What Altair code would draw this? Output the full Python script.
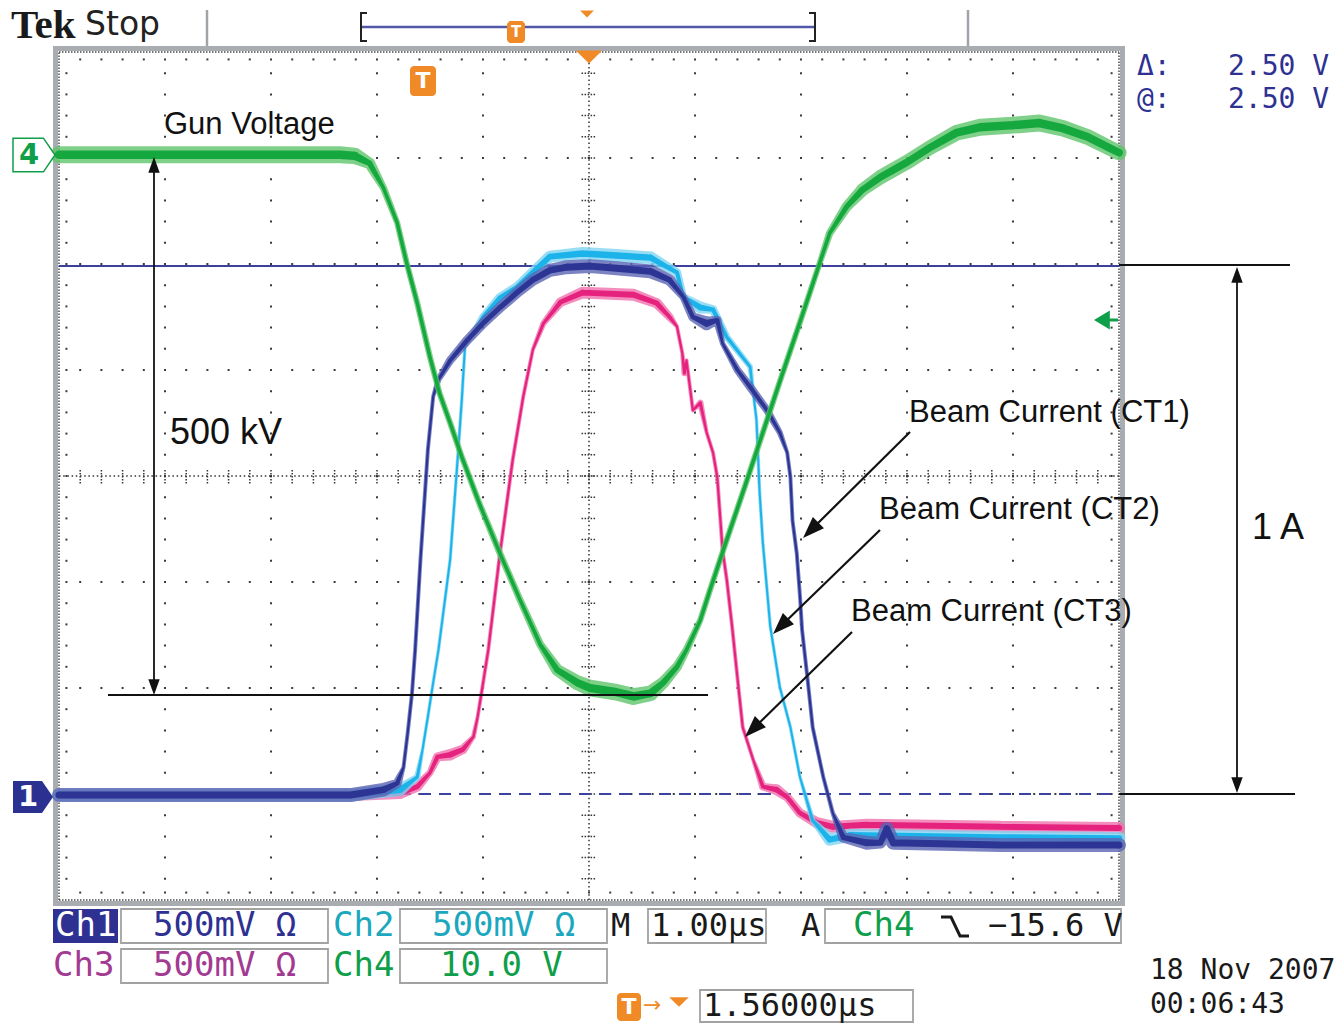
import altair as alt
import numpy as np
import pandas as pd

# ---------------- waveform data, scope units -----------------------------
# time in µs (1.00 µs/div, 10 divisions), amplitude in vertical divisions (-4..4)
GUN_T = [0.00, 0.86, 1.80, 2.65, 2.79, 2.93, 3.06, 3.19, 3.28, 3.38, 3.50, 3.59, 3.69, 3.80, 3.97,
         4.16, 4.35, 4.54, 4.70, 4.89, 5.01, 5.26, 5.42, 5.58, 5.70, 5.83, 5.92, 6.05, 6.14, 6.30,
         6.47, 6.63, 6.80, 6.99, 7.18, 7.27, 7.43, 7.58, 7.75, 8.00, 8.22, 8.47, 8.69, 9.00, 9.25,
         9.47, 9.70, 9.94, 10.00]
GUN_V = [3.03, 3.03, 3.03, 3.03, 3.02, 2.95, 2.72, 2.39, 2.01, 1.63, 1.12, 0.78, 0.50, 0.18, -0.27,
         -0.73, -1.17, -1.59, -1.83, -1.95, -2.00, -2.04, -2.08, -2.05, -1.95, -1.80, -1.64, -1.36, -1.08, -0.60,
         -0.10, 0.38, 0.89, 1.45, 2.02, 2.29, 2.54, 2.70, 2.82, 2.96, 3.10, 3.24, 3.29, 3.31, 3.33,
         3.28, 3.20, 3.08, 3.05]

CT1_T = [0.00, 1.33, 2.75, 3.06, 3.19, 3.25, 3.29, 3.33, 3.36, 3.41, 3.48, 3.53, 3.58, 3.69, 3.85,
         4.00, 4.16, 4.32, 4.47, 4.63, 4.79, 5.01, 5.26, 5.58, 5.76, 5.89, 5.98, 6.11, 6.21, 6.26,
         6.40, 6.52, 6.68, 6.80, 6.87, 6.90, 6.92, 6.96, 6.99, 7.01, 7.06, 7.11, 7.21, 7.30, 7.40,
         7.62, 7.75, 7.81, 7.87, 8.88, 10.00]
CT1_V = [-3.01, -3.01, -3.01, -2.96, -2.90, -2.75, -2.42, -2.05, -1.64, -0.79, 0.25, 0.75, 0.91, 1.09, 1.28,
         1.44, 1.59, 1.73, 1.85, 1.94, 1.97, 1.98, 1.96, 1.93, 1.85, 1.69, 1.50, 1.44, 1.47, 1.25,
         1.00, 0.84, 0.62, 0.41, 0.22, -0.01, -0.42, -0.73, -1.13, -1.45, -1.90, -2.37, -2.84, -3.18, -3.41,
         -3.46, -3.46, -3.33, -3.46, -3.48, -3.48]

CT2_T = [0.00, 2.75, 3.22, 3.38, 3.43, 3.48, 3.53, 3.58, 3.69, 3.76, 3.80, 3.83, 4.00, 4.16, 4.32,
         4.63, 4.94, 5.26, 5.58, 5.83, 5.89, 6.05, 6.17, 6.30, 6.52, 6.55, 6.58, 6.61, 6.64, 6.68,
         6.71, 6.80, 6.90, 6.99, 7.11, 7.27, 7.46, 8.88, 10.00]
CT2_V = [-3.01, -3.01, -2.96, -2.84, -2.58, -2.27, -1.95, -1.64, -0.79, 0.15, 0.72, 1.22, 1.50, 1.68, 1.78,
         2.07, 2.10, 2.08, 2.06, 1.92, 1.69, 1.59, 1.57, 1.31, 1.03, 0.78, 0.53, -0.16, -0.63, -1.08,
         -1.42, -1.99, -2.37, -2.84, -3.25, -3.43, -3.39, -3.41, -3.42]

CT3_T = [0.00, 2.75, 3.22, 3.38, 3.50, 3.57, 3.69, 3.81, 3.91, 3.95, 3.99, 4.05, 4.16, 4.28, 4.38,
         4.47, 4.57, 4.73, 4.94, 5.42, 5.64, 5.76, 5.83, 5.88, 5.90, 5.92, 5.98, 6.05, 6.11, 6.17,
         6.21, 6.24, 6.26, 6.30, 6.35, 6.40, 6.45, 6.55, 6.64, 6.77, 6.87, 6.99, 7.15, 7.30, 7.62,
         8.88, 10.00]
CT3_V = [-3.01, -3.01, -2.99, -2.93, -2.80, -2.65, -2.63, -2.58, -2.46, -2.27, -2.02, -1.64, -0.73, 0.15, 0.75,
         1.19, 1.44, 1.64, 1.73, 1.71, 1.63, 1.50, 1.41, 1.16, 0.97, 1.09, 0.62, 0.69, 0.41, 0.22,
         -0.01, -0.42, -0.70, -0.98, -1.42, -1.90, -2.37, -2.68, -2.93, -2.96, -3.03, -3.18, -3.27, -3.31, -3.29,
         -3.31, -3.32]

CURSOR_SOLID = 1.98     # Δ cursor
CURSOR_DASHED = -3.0    # @ cursor / Ch1 ground

# ---------------- colours -------------------------------------------------
NAVY = "#2e3192"
TEAL = "#1ba8be"
PURPLE = "#a33a92"
CH4G = "#0f9f4a"
ORANGE = "#f08a26"
TRACES = {
    "gun": ("#14a83e", "#5fc46c"),
    "ct1": ("#2c3593", "#5a64b3"),
    "ct2": ("#1cb3ea", "#7fd4f3"),
    "ct3": ("#e5237f", "#f070ad"),
}
# (halo amplitude px, halo min width, core min width)
TRACE_W = {"gun": (17, 6.0, 3.5), "ct1": (14, 4.0, 2.2), "ct2": (13, 3.5, 2.0), "ct3": (12, 4.0, 2.2)}

# ---------------- scales --------------------------------------------------
XS = alt.Scale(domain=[0, 10], range=[59, 1119], nice=False, zero=False)
YS = alt.Scale(domain=[-4, 4], range=[900, 52], nice=False, zero=False)


def X(p):  # layout pixel -> time divisions (chrome placement only)
    return (p - 59) / 106.0


def Y(p):  # layout pixel -> vertical divisions
    return (476 - p) / 106.0


def ex(f="x"):
    return alt.X(f + ":Q", scale=XS, axis=None)


def ey(f="y"):
    return alt.Y(f + ":Q", scale=YS, axis=None)


def widths(t, v, amp, minw):
    n = len(t)
    out = []
    for i in range(n):
        a, b = max(i - 1, 0), min(i + 1, n - 1)
        dt = t[b] - t[a]
        s = (v[b] - v[a]) / dt if dt != 0 else 50.0
        out.append(max(minw, amp / np.sqrt(1 + s * s)))
    return out


def trail(t, v, color, amp, minw, opacity):
    df = pd.DataFrame({"x": t, "y": v, "w": widths(t, v, amp, minw), "i": list(range(len(t)))})
    return alt.Chart(df).mark_trail(color=color, opacity=opacity).encode(
        x=ex(), y=ey(), size=alt.Size("w:Q", scale=None, legend=None), order="i:Q")


def segs(rows, color, width, dash=None, px=True):
    if px:
        rows = [(X(a), Y(b), X(c), Y(d)) for a, b, c, d in rows]
    df = pd.DataFrame(rows, columns=["x", "y", "x2", "y2"])
    kw = dict(color=color, strokeWidth=width)
    if dash:
        kw["strokeDash"] = dash
    return alt.Chart(df).mark_rule(**kw).encode(x=ex(), y=ey(), x2="x2:Q", y2="y2:Q")


def boxes(rows, stroke=None, fill=None, width=1.5, radius=0):
    rows = [(X(a), Y(b), X(c), Y(d)) for a, b, c, d in rows]
    df = pd.DataFrame(rows, columns=["x", "y", "x2", "y2"])
    kw = dict(strokeWidth=width, cornerRadius=radius)
    if stroke:
        kw["stroke"] = stroke
    if fill:
        kw["fill"] = fill
        kw["fillOpacity"] = 1
    else:
        kw["fillOpacity"] = 0
    return alt.Chart(df).mark_rect(**kw).encode(x=ex(), y=ey(), x2="x2:Q", y2="y2:Q")


def texts(rows, font, size, weight="normal", align="left"):
    df = pd.DataFrame([(X(a), Y(b), s, c) for s, a, b, c in rows], columns=["x", "y", "t", "c"])
    return alt.Chart(df).mark_text(font=font, fontSize=size, fontWeight=weight, align=align,
                                   baseline="middle").encode(
        x=ex(), y=ey(), text="t:N", color=alt.Color("c:N", scale=None, legend=None))


def symbols(rows, shape, size, fill, stroke=None, sw=0, px=True):
    if px:
        rows = [(X(a), Y(b), ang) for a, b, ang in rows]
    df = pd.DataFrame(rows, columns=["x", "y", "a"])
    kw = dict(shape=shape, size=size, fill=fill, fillOpacity=1, opacity=1, strokeWidth=sw)
    if stroke:
        kw["stroke"] = stroke
    return alt.Chart(df).mark_point(**kw).encode(
        x=ex(), y=ey(), angle=alt.Angle("a:Q", scale=None))


layers = []

# ---------------- graticule -----------------------------------------------
layers.append(boxes([(55.5, 48.5, 1122.5, 903.5)], stroke="#a9adb1", width=5))
dots = []
for i in range(1, 10):
    if i == 5:
        continue
    for k in range(-19, 20):
        dots.append((i, k * 0.2))
for j in range(-3, 4):
    if j == 0:
        continue
    for m in range(1, 50):
        dots.append((m * 0.2, j))
for m in range(1, 50):
    dots.append((m * 0.2, 4 - 0.07))
    dots.append((m * 0.2, -4 + 0.07))
for k in range(-19, 20):
    dots.append((0.07, k * 0.2))
    dots.append((10 - 0.07, k * 0.2))
dots_df = pd.DataFrame(dots, columns=["x", "y"])
layers.append(alt.Chart(dots_df).mark_square(size=4, color="#3a3a3a", opacity=1).encode(x=ex(), y=ey()))
layers.append(segs([(0, -4, 0, 4), (10, -4, 10, 4), (0, 4, 10, 4), (0, -4, 10, -4)],
                   "#4a4a4a", 1.5, dash=[1.5, 1.5], px=False))
layers.append(segs([(5, -4, 5, 4), (0, 0, 10, 0)], "#333333", 1.5, dash=[1.5, 2.7], px=False))
ticks = [(5 - 0.07, k * 0.2, 5 + 0.07, k * 0.2) for k in range(-19, 20)]
ticks += [(m * 0.2, -0.07, m * 0.2, 0.07) for m in range(1, 50)]
layers.append(segs(ticks, "#333333", 1.5, dash=[1.5, 1.5], px=False))

# ---------------- cursors -------------------------------------------------
layers.append(segs([(0, CURSOR_DASHED, 10, CURSOR_DASHED)], "#3b42a0", 2, dash=[12, 8], px=False))
layers.append(segs([(0, CURSOR_SOLID, 10, CURSOR_SOLID)], "#3b3f9e", 2, px=False))

# ---------------- traces --------------------------------------------------
for key, (t, v) in [("ct3", (CT3_T, CT3_V)), ("ct2", (CT2_T, CT2_V)),
                    ("ct1", (CT1_T, CT1_V)), ("gun", (GUN_T, GUN_V))]:
    core, halo = TRACES[key]
    amp, hmin, cmin = TRACE_W[key]
    layers.append(trail(t, v, halo, amp, hmin, 0.8))
    layers.append(trail(t, v, core, amp * 0.5, cmin, 1.0))

# ---------------- annotations ---------------------------------------------
ARROW = "M0,0L0.36,1L-0.36,1Z"
layers.append(segs([(154, 165, 154, 688), (108, 695, 708, 695),
                    (1119, 265, 1290, 265), (1119, 794, 1295, 794), (1237, 275, 1237, 785)],
                   "#111111", 1.8))
layers.append(symbols([(154, 157, 0), (1237, 267, 0)], ARROW, 1000, "#111111"))
layers.append(symbols([(154, 695, 180), (1237, 793, 180)], ARROW, 1000, "#111111"))
layers.append(segs([(910, 432, 810, 531), (880, 530, 780, 627), (852, 632, 752, 730)], "#111111", 2.2))
layers.append(symbols([(803, 538, 225), (773, 634, 225), (745, 737, 225)], ARROW, 1900, "#111111"))

layers.append(texts([("Gun Voltage", 164, 125, "#111111"),
                     ("Beam Current (CT1)", 909, 413, "#111111"),
                     ("Beam Current (CT2)", 879, 510, "#111111"),
                     ("Beam Current (CT3)", 851, 612, "#111111")], "Liberation Sans", 31))
layers.append(texts([("500 kV", 170, 433, "#111111"), ("1 A", 1252, 528, "#111111")],
                    "Liberation Sans", 36))

# ---------------- scope chrome: top ---------------------------------------
layers.append(texts([("Tek", 11, 26, "#1a1a1a")], "Liberation Serif", 41, weight="bold"))
layers.append(texts([("Stop", 85, 25, "#222222")], "DejaVu Sans", 33))
layers.append(segs([(207, 10, 207, 46), (968, 10, 968, 46)], "#a0a4a8", 2.5))
layers.append(segs([(361, 27, 815, 27)], "#5257a8", 2.5))
layers.append(segs([(361, 12, 361, 42), (815, 12, 815, 42), (361, 13, 367, 13), (361, 41, 367, 41),
                    (809, 13, 815, 13), (809, 41, 815, 41)], "#222222", 2))
TRI = "M-1,-0.5L1,-0.5L0,0.5Z"
layers.append(symbols([(589, 57, 0)], TRI, 700, ORANGE))
layers.append(symbols([(587, 14, 0)], TRI, 190, ORANGE))
layers.append(boxes([(410, 66, 436, 96), (507, 21, 525, 43), (617, 993, 641, 1021)], fill=ORANGE,
                    width=0, radius=4))
layers.append(texts([("T", 423, 81, "#ffffff"), ("T", 629, 1007, "#ffffff")], "DejaVu Sans", 22,
                    weight="bold", align="center"))
layers.append(texts([("T", 516, 32, "#ffffff")], "DejaVu Sans", 15, weight="bold", align="center"))

layers.append(texts([("Δ:", 1137, 67, NAVY), ("@:", 1137, 100, NAVY),
                     ("2.50 V", 1228, 67, NAVY), ("2.50 V", 1228, 100, NAVY)], "DejaVu Sans Mono", 28))

# channel markers
PENT = "M-1,-0.8L0.45,-0.8L1,0L0.45,0.8L-1,0.8Z"
layers.append(symbols([(34, 155, 0)], PENT, 1764, "#ffffff", stroke=CH4G, sw=1.5))
layers.append(symbols([(33, 797, 0)], PENT, 1600, "#2b3190"))
layers.append(texts([("4", 29, 155, CH4G)], "DejaVu Sans", 29, weight="bold", align="center"))
layers.append(texts([("1", 28, 797, "#ffffff")], "DejaVu Sans", 29, weight="bold", align="center"))
# Ch4 trigger level arrow
WIDE_ARROW = "M0,0L0.6,1L-0.6,1Z"
layers.append(segs([(1104, 320, 1118, 320)], CH4G, 3))
layers.append(symbols([(1094, 320, 270)], WIDE_ARROW, 1000, CH4G))

# ---------------- scope chrome: bottom ------------------------------------
layers.append(boxes([(53, 909, 118, 943)], fill=NAVY, width=0))
layers.append(boxes([(121, 909, 328, 943), (400, 909, 607, 943), (648, 909, 766, 943),
                     (825, 909, 1121, 943), (121, 949, 328, 983), (400, 949, 607, 983),
                     (700, 990, 913, 1022)], stroke="#a2a2a2", width=1.8))
MONO = "DejaVu Sans Mono"
layers.append(texts([("Ch1", 55, 926, "#ffffff"), ("500mV Ω", 153, 926, NAVY),
                     ("Ch2", 333, 926, TEAL), ("500mV Ω", 432, 926, TEAL),
                     ("Ch3", 53, 966, PURPLE), ("500mV Ω", 153, 966, PURPLE),
                     ("Ch4", 333, 966, CH4G), ("10.0 V", 440, 966, CH4G),
                     ("Ch4", 853, 926, CH4G)], MONO, 34))
layers.append(texts([("M", 611, 926, "#1a1a1a"), ("1.00µs", 651, 926, "#1a1a1a"),
                     ("A", 801, 926, "#1a1a1a"), ("−15.6 V", 988, 926, "#1a1a1a"),
                     ("1.56000µs", 703, 1006, "#1a1a1a")], MONO, 32))
layers.append(texts([("18 Nov 2007", 1150, 971, "#1a1a1a"), ("00:06:43", 1150, 1005, "#1a1a1a")],
                    MONO, 28))
edge = pd.DataFrame({"x": [X(941), X(951), X(960), X(969)], "y": [Y(917), Y(917), Y(936), Y(936)],
                     "i": [0, 1, 2, 3]})
layers.append(alt.Chart(edge).mark_line(color="#1a1a1a", strokeWidth=3).encode(x=ex(), y=ey(), order="i:Q"))
layers.append(texts([("→", 643, 1005, ORANGE)], "DejaVu Sans", 22))
layers.append(symbols([(679, 1002, 0)], TRI, 380, ORANGE))

chart = alt.layer(*layers).properties(
    width=1337, height=1026, padding=0, autosize=alt.AutoSizeParams(type="none"),
    background="white",
).configure_view(strokeWidth=0)

chart.save("out.html", embed_options={"renderer": "svg", "actions": False})
